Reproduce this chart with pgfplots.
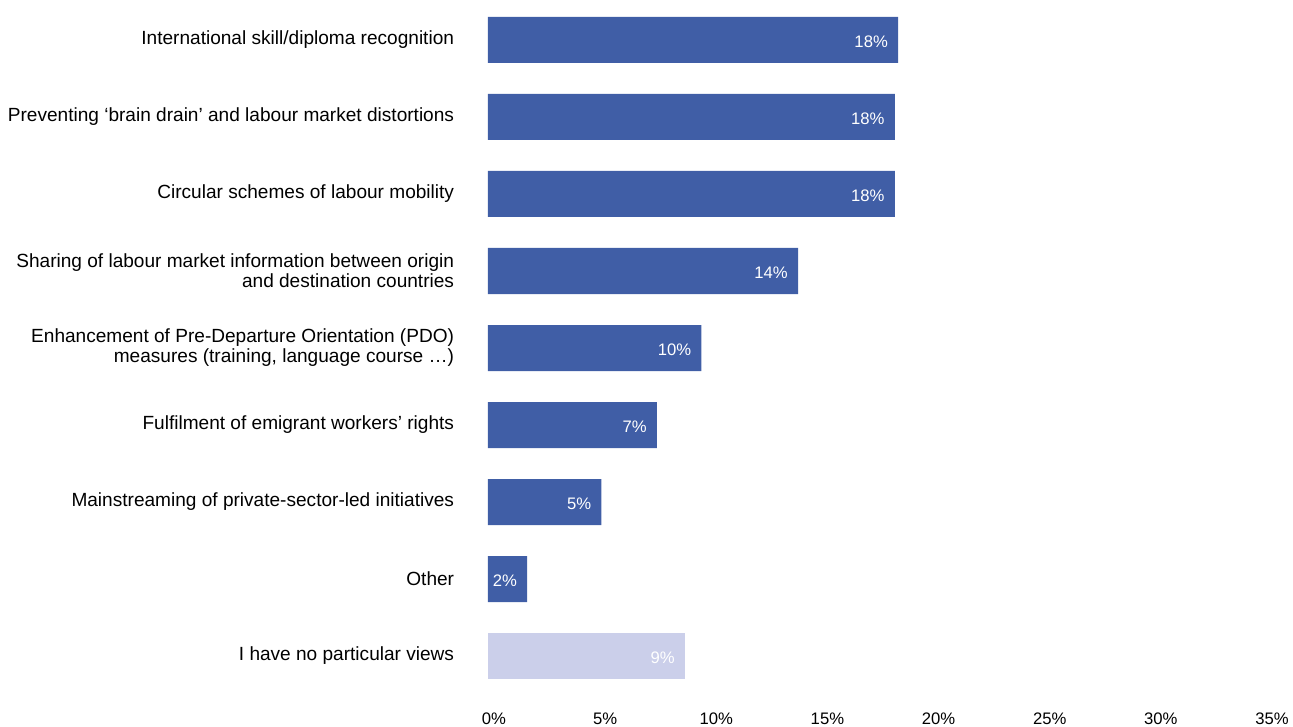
\documentclass[border=0pt]{standalone}
\usepackage{fontspec}
\setmainfont{Liberation Sans}
\usepackage{pgfplots}
\pgfplotsset{compat=1.18}
\definecolor{barblue}{RGB}{64,94,166}
\definecolor{barlight}{RGB}{203,207,234}
\begin{document}
\begin{tikzpicture}
\useasboundingbox (-366pt,-24.375pt) rectangle (603.75pt,520.875pt);
\begin{axis}[
  at={(0,0)}, anchor=south west,
  scale only axis, width=583.5pt, height=519.75pt,
  xmin=0, xmax=35, ymin=-0.5, ymax=8.5, y dir=reverse,
  axis line style={draw=none},
  major tick length=0pt,
  tick style={draw=none},
  xtick={0,5,...,35},
  xticklabel={\pgfmathprintnumber{\tick}\%},
  /pgf/number format/assume math mode=true,
  xticklabel style={anchor=base, yshift=-22.5pt, xshift=4.5pt, inner sep=0pt, font=\fontsize{12.5}{15}\selectfont},
  ytick={0,...,8},
  yticklabels={International skill/diploma recognition,
    Preventing ‘brain drain’ and labour market distortions,
    Circular schemes of labour mobility,
    {Sharing of labour market information between origin\\and destination countries},
    {Enhancement of Pre-Departure Orientation (PDO)\\measures (training, language course …)},
    Fulfilment of emigrant workers’ rights,
    Mainstreaming of private-sector-led initiatives,
    Other,
    I have no particular views},
  yticklabel style={align=right, anchor=east, inner sep=0pt, xshift=-25.25pt, font=\fontsize{14.3}{15}\selectfont},
  xbar, bar width=34.5pt, bar shift=0pt,
  nodes near coords,
  point meta=explicit symbolic,
  every node near coord/.append style={anchor=east, xshift=-7.5pt, yshift=-1.5pt, inner sep=0pt, text=white, font=\fontsize{12.5}{15}\selectfont},
]
\addplot[fill=barblue, draw=none] coordinates {
  (18.45,0) [18\%]
  (18.3,1) [18\%]
  (18.3,2) [18\%]
  (13.95,3) [14\%]
  (9.6,4) [10\%]
  (7.6,5) [7\%]
  (5.1,6) [5\%]
  (1.76,7) [2\%]
};
\addplot[fill=barlight, draw=none] coordinates {
  (8.86,8) [9\%]
};
\end{axis}
\end{tikzpicture}
\end{document}
